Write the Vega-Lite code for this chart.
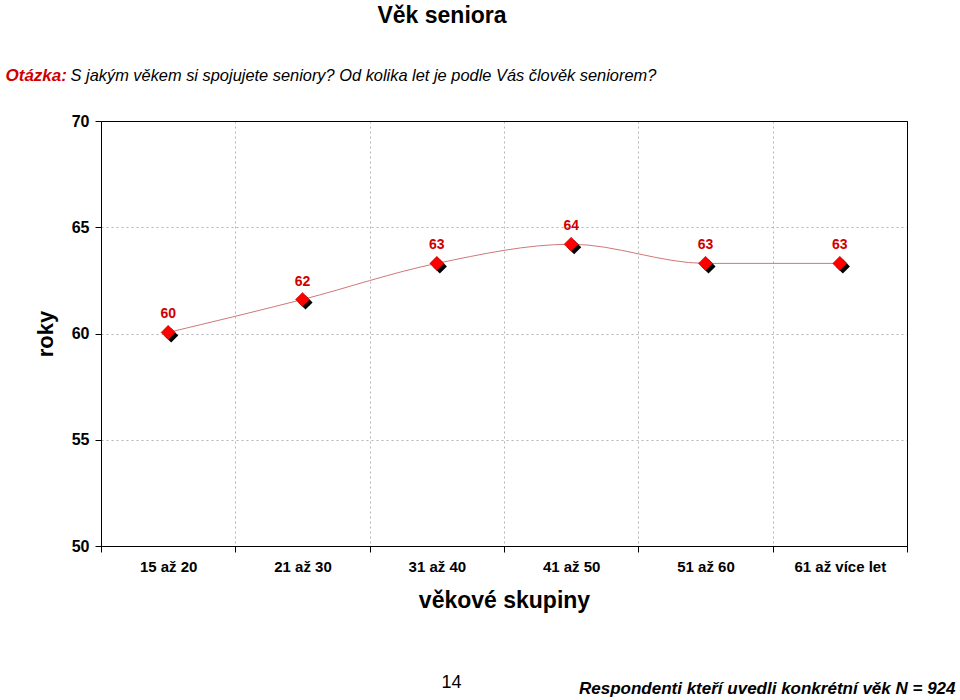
{
  "$schema": "https://vega.github.io/schema/vega-lite/v6.json",
  "autosize": "none",
  "width": 806,
  "height": 425,
  "padding": {"left": 101, "top": 121, "right": 53, "bottom": 154},
  "background": "white",
  "title": {
    "text": "Věk seniora",
    "font": "Liberation Sans",
    "fontSize": 23,
    "fontWeight": "bold",
    "color": "black",
    "anchor": "middle",
    "frame": "group",
    "dx": -62,
    "offset": 38
  },
  "data": {
    "values": [
      {"skupina": "15 až 20", "vek": 60.05},
      {"skupina": "21 až 30", "vek": 61.6},
      {"skupina": "31 až 40", "vek": 63.3},
      {"skupina": "41 až 50", "vek": 64.2},
      {"skupina": "51 až 60", "vek": 63.3},
      {"skupina": "61 až více let", "vek": 63.3}
    ]
  },
  "config": {
    "view": {"stroke": "black", "strokeWidth": 1},
    "axis": {
      "labelFont": "Liberation Sans",
      "titleFont": "Liberation Sans",
      "domainColor": "black",
      "tickColor": "black",
      "labelColor": "black",
      "titleColor": "black"
    }
  },
  "resolve": {"axis": {"x": "independent", "y": "independent"}},
  "layer": [
    {
      "mark": {"type": "line", "interpolate": "monotone", "color": "#d07878", "strokeWidth": 1},
      "encoding": {
        "x": {
          "field": "skupina", "type": "nominal", "sort": null, "bandPosition": 0.5,
          "scale": {"type": "band", "paddingInner": 0, "paddingOuter": 0},
          "axis": {
            "orient": "bottom",
            "title": "věkové skupiny",
            "titleFontSize": 23,
            "titleFontWeight": "bold",
            "titlePadding": 15,
            "labelAngle": 0,
            "labelFontSize": 15,
            "labelFontWeight": "bold",
            "labelPadding": 7,
            "tickBand": "extent",
            "tickSize": 6,
            "grid": true,
            "gridColor": "#b4b4b4",
            "gridDash": [2, 3],
            "domain": true
          }
        },
        "y": {
          "field": "vek", "type": "quantitative",
          "scale": {"domain": [50, 70], "nice": false, "zero": false},
          "axis": {
            "orient": "left",
            "title": "roky",
            "titleFontSize": 22,
            "titleFontWeight": "bold",
            "titlePadding": 14,
            "values": [50, 55, 60, 65, 70],
            "labelFontSize": 16,
            "labelFontWeight": "bold",
            "labelPadding": 6,
            "tickSize": 6,
            "grid": true,
            "gridColor": "#b4b4b4",
            "gridDash": [2, 3]
          }
        }
      }
    },
    {
      "mark": {"type": "point", "shape": "diamond", "filled": true, "color": "black", "opacity": 1, "size": 200, "xOffset": 3, "yOffset": 3},
      "encoding": {
        "x": {
          "field": "skupina", "type": "nominal", "sort": null, "bandPosition": 0.5,
          "axis": {
            "orient": "top",
            "zindex": 1,
            "title": "S jakým věkem si spojujete seniory? Od kolika let je podle Vás člověk seniorem?",
            "titleFontSize": 16.4,
            "titleFontWeight": "normal",
            "titleFontStyle": "italic",
            "titleX": -31,
            "titleY": -41,
            "titleAlign": "left",
            "titleAnchor": "start",
            "titleBaseline": "alphabetic",
            "labels": false, "ticks": false, "grid": false,
            "domain": true, "domainColor": "black", "domainWidth": 1
          }
        },
        "y": {
          "field": "vek", "type": "quantitative",
          "axis": {
            "orient": "right",
            "zindex": 1,
            "title": "Otázka:",
            "titleColor": "#d00000",
            "titleFontSize": 17,
            "titleFontWeight": "bold",
            "titleFontStyle": "italic",
            "titleAngle": 0,
            "titleX": -902,
            "titleY": -41,
            "titleAlign": "left",
            "titleBaseline": "alphabetic",
            "labels": false, "ticks": false, "grid": false,
            "domain": true, "domainColor": "black", "domainWidth": 1
          }
        }
      }
    },
    {
      "mark": {"type": "point", "shape": "diamond", "filled": true, "color": "#ff0000", "opacity": 1, "size": 200, "stroke": "#c00000", "strokeWidth": 0.5},
      "encoding": {
        "x": {
          "field": "skupina", "type": "nominal", "sort": null, "bandPosition": 0.5,
          "axis": {
            "orient": "bottom",
            "title": "Respondenti kteří uvedli konkrétní věk N = 924",
            "titleFontSize": 17,
            "titleFontWeight": "bold",
            "titleFontStyle": "italic",
            "titleX": 854,
            "titleY": 147,
            "titleAlign": "right",
            "titleBaseline": "alphabetic",
            "labels": false, "ticks": false, "domain": false, "grid": false
          }
        },
        "y": {
          "field": "vek", "type": "quantitative",
          "axis": {
            "orient": "left",
            "title": "14",
            "titleFontSize": 18,
            "titleFontWeight": "normal",
            "titleAngle": 0,
            "titleX": 350,
            "titleY": 566,
            "titleAlign": "center",
            "titleBaseline": "alphabetic",
            "labels": false, "ticks": false, "domain": false, "grid": false
          }
        }
      }
    },
    {
      "mark": {"type": "text", "color": "#d00000", "font": "Liberation Sans", "fontSize": 14, "fontWeight": "bold", "dy": -18, "baseline": "middle"},
      "encoding": {
        "x": {"field": "skupina", "type": "nominal", "sort": null, "bandPosition": 0.5, "axis": null},
        "y": {"field": "vek", "type": "quantitative", "axis": null},
        "text": {"field": "vek", "type": "quantitative", "format": ".0f"}
      }
    }
  ]
}
